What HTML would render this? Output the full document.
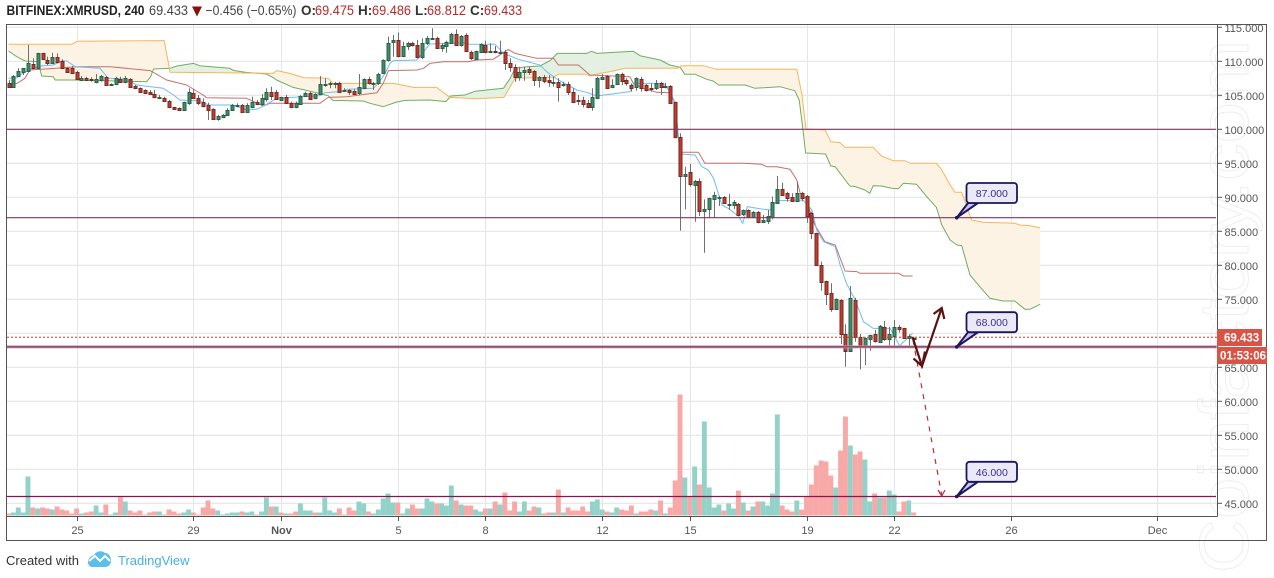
<!DOCTYPE html>
<html lang="en">
<head>
<meta charset="utf-8">
<title>BITFINEX:XMRUSD, 240</title>
<style>
html,body{margin:0;padding:0;background:#fff;width:1274px;height:578px;overflow:hidden}
svg{display:block}
text{font-family:"Liberation Sans",sans-serif}
</style>
</head>
<body>
<svg id="chart" xmlns="http://www.w3.org/2000/svg" width="1274" height="578" viewBox="0 0 1274 578">
  <defs>
    <clipPath id="axisClip"><rect x="1218" y="25" width="49" height="516"/></clipPath>
    <clipPath id="plotClip"><rect x="7" y="25" width="1210" height="491"/></clipPath>
  </defs>
  <text transform="translate(1248 573) rotate(-90)" font-size="70" fill="none" stroke="#efefef" stroke-width="1" textLength="533" lengthAdjust="spacingAndGlyphs">Coinfactory.com</text>
  <g id="grid"></g>
  <g id="volumes"></g>
  <g id="ichimoku" clip-path="url(#plotClip)"></g>
  <g id="candles" clip-path="url(#plotClip)"></g>
  <g id="levels"></g>
  <g id="drawings">
    <g fill="none" stroke="#b5303a" stroke-width="1.2">
      <path d="M913 340L941.7 495" stroke-dasharray="5 6"/>
      <path d="M938 490L941.7 496L945 490"/>
    </g>
    <g fill="none" stroke="#5a1410" stroke-width="2.2">
      <path d="M912.5 337L922 366L941.7 308"/>
      <path d="M913.5 358.5L922 366L925 351.5"/>
      <path d="M933.5 314L941.7 308L944.3 319"/>
    </g>
  </g>
  <g id="callouts"></g>
  <g id="frame" fill="none" stroke="#555" stroke-width="1">
    <rect x="6.5" y="24.5" width="1260" height="516"/>
    <path d="M1217.5 24.5V516.5"/>
    <path d="M6.5 516.5H1217.5"/>
  </g>
  <g id="axes"></g>
  <g id="lastPrice">
    <rect x="1217" y="329" width="45" height="17" fill="#d95446"/>
    <text x="1224" y="341.5" font-size="11.5" font-weight="700" fill="#fff">69.433</text>
    <rect x="1217" y="347" width="50" height="17" fill="#d95446"/>
    <text x="1220" y="359.5" font-size="11.5" font-weight="700" fill="#fff">01:53:06</text>
  </g>
  <g id="legend" font-size="13.5">
    <text x="6.5" y="15" font-weight="700" fill="#222" textLength="138" lengthAdjust="spacingAndGlyphs">BITFINEX:XMRUSD, 240</text>
    <text x="149" y="15" fill="#444" textLength="39" lengthAdjust="spacingAndGlyphs">69.433</text>
    <path d="M192 6.5H202L197 16.5Z" fill="#8b0f0f"/>
    <text x="205.5" y="15" fill="#444" textLength="91" lengthAdjust="spacingAndGlyphs">−0.456 (−0.65%)</text>
    <text x="301" y="15" font-weight="700" fill="#333">O:</text>
    <text x="315" y="15" fill="#b52a2a" textLength="39" lengthAdjust="spacingAndGlyphs">69.475</text>
    <text x="358" y="15" font-weight="700" fill="#333">H:</text>
    <text x="372" y="15" fill="#b52a2a" textLength="39" lengthAdjust="spacingAndGlyphs">69.486</text>
    <text x="415" y="15" font-weight="700" fill="#333">L:</text>
    <text x="427" y="15" fill="#b52a2a" textLength="39" lengthAdjust="spacingAndGlyphs">68.812</text>
    <text x="470" y="15" font-weight="700" fill="#333">C:</text>
    <text x="484" y="15" fill="#b52a2a" textLength="38" lengthAdjust="spacingAndGlyphs">69.433</text>
  </g>
  <g id="footer">
    <text x="6" y="565" font-size="13" fill="#333">Created with</text>
    <g>
      <path d="M88 562C88 557 92 556 94 555C96 551 102 550 105 553C109 553 111 557 111 561C111 565 108 567 105 567H92C90 567 88 565 88 562Z" fill="#5cbeea"/>
      <path d="M89 561L95 556L100 561L105 556L110 561" fill="none" stroke="#fff" stroke-width="2"/>
    </g>
    <text x="118" y="565" font-size="13" fill="#45b0e6">TradingView</text>
  </g>
</svg>
<script>
const opens=[106.86,106.37,107.94,108.58,108.73,109.71,109.07,111.27,110.29,109.9,110.69,110.1,109.07,109.12,108.53,107.35,107.6,107.5,107.11,107.35,107.84,106.62,106.72,107.45,107.11,107.5,106.47,106.23,105.88,105.64,105.25,104.75,104.75,104.26,103.38,103.24,102.89,104.02,105.39,104.75,104.12,103.68,103.09,101.67,101.96,102.25,102.99,103.48,103.68,102.65,103.43,104.12,103.87,104.61,105.64,105.59,104.41,104.8,104.02,103.43,103.82,105.05,105.39,104.71,105.29,106.67,106.76,106.86,106.86,105.78,105.83,105.74,105.49,106.23,107.5,106.76,106.86,108.33,110.29,112.99,113.24,110.88,112.4,112.75,112.5,110.78,112.75,113.38,113.48,112.11,112.4,112.84,114.07,112.5,113.97,111.47,110.39,111.52,112.5,111.52,111.67,111.32,111.42,109.8,109.31,107.84,108.48,108.92,108.63,107.4,107.84,107.3,106.86,107.01,106.57,106.72,105.54,104.41,104.41,103.92,103.33,104.75,107.45,107.94,106.27,106.72,108.19,107.3,106.62,106.37,107.45,106.57,106.13,106.13,106.86,106.42,106.52,104.07,98.92,93.28,93.77,91.96,92.45,88.14,88.43,89.9,90.05,90.1,89.02,88.97,89.17,87.7,88.19,87.16,87.89,86.52,86.67,87.16,89.31,91.27,90.69,90.1,89.61,90.69,90.29,87.74,84.8,80.1,77.74,75.98,73.72,75,69.95,67.55,75,69.51,68.14,69.31,69.95,68.87,71.08,69.21,69.75,70.98,70.83,69.36,69.475];
const highs=[107.35,108.09,109.07,109.07,112.5,110.54,111.37,111.37,110.78,111.37,111.27,110.39,109.31,109.41,108.73,107.94,107.84,107.75,108.24,108.09,107.94,106.86,107.84,107.84,107.94,107.6,106.62,106.27,105.98,105.88,105.88,105.15,104.9,104.41,103.43,103.33,104.17,106.13,105.98,105.15,104.66,104.02,103.19,102.21,102.35,103.19,103.82,103.92,103.82,103.92,104.9,104.41,105.29,106.13,106.37,105.88,104.9,105.15,104.17,104.17,105.15,105.64,105.64,105.39,107.94,107.6,107.11,107.11,107.11,106.13,105.98,105.98,108.24,107.6,107.84,107.11,108.43,110.39,113.73,113.97,114.36,112.99,112.99,112.99,113.24,113.48,113.82,114.95,113.73,112.75,113.14,114.31,114.8,113.97,114.22,111.67,111.67,112.75,113.14,112.75,112.35,113.14,111.76,110.54,109.66,109.31,109.31,109.31,108.82,107.94,108.09,108.09,107.84,107.6,107.11,107.11,106.13,105.15,104.9,104.41,106.13,107.84,108.24,108.09,107.45,108.33,108.43,107.6,106.86,107.75,107.84,106.76,106.86,107.35,107.11,106.96,106.62,104.17,99.51,94.61,95,92.65,92.89,89.8,90.05,90.93,90.34,90.29,90.59,89.71,89.26,88.33,88.33,88.09,88.09,87.5,88.24,90.2,93.24,92.25,90.93,90.69,92.4,90.93,90.44,87.99,84.9,80.64,77.84,77.45,75.24,75.1,71.42,77.06,75.34,70,69.51,69.9,70.59,71.32,71.91,71.08,72.06,71.32,70.93,69.95,69.486];
const lows=[106.37,106.27,107.84,108.09,108.73,108.92,109.07,110.29,109.56,109.71,109.8,108.92,108.43,108.24,107.35,107.35,107.25,107.11,106.86,107.11,106.47,106.47,106.57,106.96,106.86,106.27,105.98,105.49,105.29,105.15,104.66,104.51,104.17,103.19,103.04,102.84,102.79,103.68,104.66,103.68,103.33,101.47,101.47,101.37,101.86,102.16,102.79,103.33,102.55,102.55,103.19,103.68,103.53,104.17,104.41,104.41,104.31,103.92,103.19,103.19,103.68,104.9,104.41,104.51,105.15,106.37,106.13,106.13,105.49,105.64,105.15,105.15,105.15,105.98,106.67,105.88,106.62,108.24,110.05,110.78,110.69,110.69,111.76,112.26,110.54,110.39,112.5,113.38,112.01,111.52,111.37,112.75,112.35,112.26,111.52,110.29,110.29,111.42,111.27,111.42,111.27,111.18,108.82,108.58,107.11,107.25,107.25,108.09,106.47,106.23,106.86,106.37,106.37,104.17,106.37,105.15,104.02,103.68,103.33,103.19,102.84,104.66,107.35,106.13,106.13,106.62,106.62,106.52,105.64,105.78,105.64,105.64,105.64,105.88,105.15,106.13,103.92,98.77,85.2,88.33,91.67,86.52,87.35,81.96,87.01,87.16,88.82,89.12,88.24,88.38,87.45,87.35,87.01,87.01,86.27,86.37,86.18,86.86,89.22,90.34,89.46,89.51,89.51,89.51,86.37,83.97,80,76.37,74.26,73.28,73.63,68.53,65.2,67.45,68.87,64.8,65.44,67.55,68.73,68.73,69.02,68.23,68.23,70.2,69.36,68.23,68.812];
const closes=[106.37,107.94,108.68,109.07,109.8,109.07,111.27,110.39,109.8,110.69,110.05,109.17,108.58,108.43,107.5,107.7,107.35,107.35,107.55,107.94,106.62,106.81,107.7,107.11,107.7,106.37,106.13,105.64,105.49,105.29,104.8,104.8,104.26,103.33,103.14,102.94,104.07,105.54,104.75,104.02,103.53,102.94,101.67,102.06,102.25,102.94,103.63,103.68,102.7,103.63,104.07,103.82,104.66,105.64,105,104.61,104.8,104.02,103.43,103.92,105.05,105.39,104.51,105.25,106.76,106.76,106.86,106.96,105.64,105.88,105.54,105.34,106.27,107.45,106.86,106.86,108.24,110.29,112.75,113.24,110.88,112.35,112.75,112.5,110.78,112.75,113.48,113.48,112.11,112.45,112.89,114.12,112.5,113.82,111.67,110.64,111.57,112.6,111.52,111.67,111.42,111.42,109.8,109.31,107.84,108.48,108.82,108.53,107.35,107.84,107.25,107.11,107.06,106.37,106.76,105.64,104.17,104.26,103.87,103.43,104.8,107.6,107.84,106.23,106.62,108.19,107.25,106.86,106.23,107.6,106.13,105.88,105.98,106.86,106.37,106.52,104.02,98.92,93.28,93.53,92.06,92.45,88.14,88.33,89.95,90.39,90.15,89.31,89.12,89.36,87.55,88.19,87.21,87.89,86.42,86.72,87.3,89.36,91.27,90.49,90.05,89.61,90.69,90,87.4,84.9,80.15,77.7,75.93,73.72,75.1,69.95,67.55,75.24,69.56,68.14,69.36,69.8,68.92,71.18,69.21,69.95,71.03,70.78,69.46,69.7,69.433];

const volumes=[6,9,24,9,117,24,21,24,21,18,27,18,15,6,21,6,9,12,30,9,33,3,9,55,42,15,9,15,3,9,12,12,3,18,12,6,9,18,9,3,24,45,21,15,3,6,9,9,12,9,12,3,12,54,27,27,9,6,6,12,36,15,15,9,9,54,15,9,21,3,24,15,42,36,12,6,18,51,66,39,39,6,21,33,21,21,51,42,36,36,30,90,45,33,30,30,18,12,21,21,42,33,69,15,42,12,42,15,27,24,6,9,9,78,9,24,15,15,27,12,42,48,18,12,9,24,18,15,30,6,12,12,18,15,45,6,24,105,363,114,57,147,93,282,84,24,33,15,36,21,75,39,15,27,42,42,30,66,303,30,18,12,45,18,57,93,150,165,162,120,84,195,297,210,183,192,168,42,66,54,54,75,63,12,42,45,9];
const volumeDirections="RGGGGRGRRG"+"RRRRRGRRGG"+"RGGRGRRRRR"+"RGRRRRGGRR"+"RRRGGGGGRG"+"GRGGRGRGRR"+"GGGRGGGGRG"+"RRGGRGGGGG"+"RGGRRGGGRG"+"GGRGRRGGRG"+"RGRRRGGRRG"+"RRGRGRRRRR"+"GGGRGGRRRG"+"RRRGRGRRRG"+"RGRGGGGRGG"+"RGRGRGGGGR"+"RRGRRRRRRR"+"GRRGRRGGRG"+"RGGRRGR";

const senkouABars=[0,1.7,3.4,6.1,6.8,9.2,9.6,13.7,28.4,29.2,29.8,33.2,34.6,38,39.3,45.5,46.2,48.6,53,54.3,55.1,58.5,62.3,65.7,66.7,72.9,74.3,77,79.8,81.5,86.6,89.9,90.9,93.8,95.9,101.7,103.1,104.1,106.5,109.2,111.3,112.8,118.8,119.8,120.9,128.4,129.8,133.9,135.9,138,139,141.1,143.5,144.8,145.9,151.4,153.4,158.5,161.6,162.5,163.2,163.8,167.9,169,169.9,172.9,174,176,177,177.7,179.4,181.5,182.9,183.9,186.6,189,190.7,191.8,193.5,194.9,195.9,197.6,199.6,201.7,204.4,206.8,208.9,209.9,212];
const senkouAValues=[111.62,110.78,110.15,110.05,107.94,107.84,107.35,107.35,107.11,107.84,108.97,109.07,109.41,109.8,109.46,109.07,108.77,108.48,108.24,107.75,107.35,106.27,105.64,105.05,104.36,104.26,103.92,103.43,104.12,104.36,104.41,104.17,105,105.15,105.69,106.13,107.6,109.07,109.31,109.41,110.2,111.27,111.27,111.57,111.27,111.57,110.93,110.29,109.56,109.22,108.19,108.19,107.45,107.2,106.62,106.62,106.13,106.37,105.78,104.41,100.49,96.62,96.47,94.71,94.61,91.76,91.67,91.18,90.69,91.81,91.76,91.42,91.37,92.16,92.01,89.95,88.63,86.03,83.83,83.09,83,78.68,76.96,75.25,74.86,74.86,73.63,73.63,74.37];
const senkouBBars=[0,13,14.1,32,33.2,42.8,54.4,55.1,57.8,60.6,65.7,66.7,79.1,83.2,88,90.7,96.2,101.8,104.1,112,113,118.8,119.5,121.5,123.6,126.7,137.6,138.3,142.8,145.5,162,163,163.9,167.8,169,170.9,171.9,177.7,179.4,181.8,184.2,185.3,190.7,191.8,193.5,194.5,195.9,197.9,200.3,206.8,207.9,209.9,212];
const senkouBValues=[112.6,112.6,113.04,113.14,108.48,108.43,108.33,108.73,108.33,107.7,107.6,106.86,106.86,106.27,106.27,104.8,104.61,104.8,107.6,107.75,108.19,108.19,107.94,108.33,108.58,109.07,109.07,109.46,109.46,108.92,108.92,105.39,100.15,100,98.28,98.14,97.45,97.45,96.18,95.49,95.49,95.1,95.1,94.12,91.91,90.84,90.84,86.77,86.42,86.28,86.03,85.93,85.64];
const tenkanBars=[0,1.7,2.4,4.1,6.8,9.2,10.9,12,13.7,18.8,20.5,24.3,26.3,31.8,33.9,35.2,39.3,41.1,46.2,48.9,51,53,55.1,64,65,68.1,69.5,75,76,77.4,78.4,79.1,83.9,85.3,86.6,93.8,94.8,100,101.7,104.8,109.2,110.6,113,116.8,118.8,120.9,127.7,128.4,134.6,135.9,137,138,141.1,142.5,143.8,144.9,146.6,147.9,150,150.9,151.8,154.4,156.5,157.9,163.3,165.1,166.1,167.5,169.9,170.9,172.2,174,175.7,177.7,181.2,183.1,184.2,185.8];
const tenkanValues=[107.6,107.65,108.09,108.82,109.41,109.56,110.15,110.15,109.31,109.07,107.6,107.45,106.62,106.13,105.15,104.41,104.31,103.68,103.68,102.94,103.04,103.77,104.66,105.05,105.49,105.64,105.98,106.13,106.86,108.33,109.8,110.2,110.29,111.52,112.65,112.84,112.6,112.6,111.27,110.39,109.56,108.58,107.35,105.88,105.54,105,105.64,106.86,106.86,105.64,104.02,96.47,96.32,94.61,94.12,92.89,88.97,88.48,87.35,86.27,88.73,88.43,88.24,89.61,89.71,88.24,85.29,83.58,82.84,80.15,77.45,75,71.81,70.83,70.83,68.28,69.02,70.1];
const kijunBars=[0,1.7,3.4,4.4,9.9,14,20.9,29.1,32.5,36.6,40,40.7,48.9,52.4,53.7,64,65.7,69.5,75.7,77,78.1,83.9,85.3,86.6,89.4,94.5,96.2,99.6,102.7,104.1,108.5,112,113,117.1,119.5,127.7,128.4,130.5,133.2,135.9,137,138,141.8,143.1,151,154.8,155.8,157.9,160.6,162,162.7,163.8,165.7,167.8,169.9,171.9,174.3,175,182.9,183.9,185.8];
const kijunValues=[106.47,106.86,107.6,108.82,109.07,109.31,109.31,108.73,107.35,106.62,105.15,104.75,104.66,103.53,103.92,103.92,104.8,104.9,105.49,106.86,108.73,108.82,109.07,109.8,110.05,110.05,110.29,110.39,111.86,111.27,110.54,110.54,109.56,109.56,108.09,107.84,106.86,106.13,105.54,105.49,103.92,96.72,96.72,95.1,95.1,94.95,94.61,94.61,94.22,92.65,90.69,89.95,86.03,83.58,83.09,79.26,79.17,78.92,78.92,78.53,78.53];

const priceTicks=[115,110,105,100,95,90,85,80,75,70,65,60,55,50,45];
const timeTickBars=[14,38,56,80,98,122,140,164,182,206,236];
const timeTickLabels=["25","29","Nov","5","8","12","15","19","22","26","Dec"];
const levelPrices=[100,87,68,46];
const calloutPrices=[87,68,46];
const lastPrice=69.433;

const SVG_NS="http://www.w3.org/2000/svg";
function xBar(i){return 8.5+4.866*i;}
function yPrice(p){return 129.3+(100-p)*6.8;}
function yMark(p){return yPrice(p)+0.7;}
function yVolume(v){return 515.5-v/3;}
function mk(parent,tag,attrs){
  const el=document.createElementNS(SVG_NS,tag);
  for(const k in attrs){el.setAttribute(k,attrs[k]);}
  parent.appendChild(el);
  return el;
}
function lineValue(bars,vals,b){
  if(b<=bars[0])return vals[0];
  for(let i=1;i<bars.length;i++){
    if(b<=bars[i]){
      const t=(b-bars[i-1])/(bars[i]-bars[i-1]);
      return vals[i-1]+t*(vals[i]-vals[i-1]);
    }
  }
  return vals[vals.length-1];
}

/* grid */
const gridG=document.getElementById('grid');
priceTicks.forEach(function(p){
  const y=yPrice(p).toFixed(1);
  const l=mk(gridG,'line',{x1:7,x2:1217,y1:y,y2:y,stroke:'#e2e2e2','stroke-width':1});
  
  
});
timeTickBars.forEach(function(b){
  const x=Math.round(xBar(b))+0.5;
  const l=mk(gridG,'line',{x1:x,x2:x,y1:25,y2:516,stroke:'#e6e6e6','stroke-width':1});
  
  
});

/* volume */
const volG=document.getElementById('volumes');
volumes.forEach(function(v,i){
  const y=yVolume(v);
  const r=mk(volG,'rect',{x:(xBar(i)-2.45).toFixed(2),y:y.toFixed(2),width:4.9,height:(515.5-y).toFixed(2),fill:volumeDirections[i]==='G'?'#92d2c9':'#f8a8a6'});
  
  
});

/* cloud */
const ichG=document.getElementById('ichimoku');
(function(){
  const step=0.2, end=212;
  let run=[], sign=null;
  function flush(){
    if(run.length<2)return;
    const top=run.map(function(r){return xBar(r[0]).toFixed(1)+','+yMark(r[1]).toFixed(1);});
    const bot=run.slice().reverse().map(function(r){return xBar(r[0]).toFixed(1)+','+yMark(r[2]).toFixed(1);});
    const poly=mk(ichG,'polygon',{points:top.concat(bot).join(' '),fill:sign>0?'#e4f1e2':'#fdf3e4'});
    
    
  }
  for(let b=0;b<=end+1e-6;b+=step){
    const a=lineValue(senkouABars,senkouAValues,b);
    const c=lineValue(senkouBBars,senkouBValues,b);
    const s=a>=c?1:-1;
    if(sign!==null&&s!==sign){
      run.push([b,a,c]);
      flush();
      run=[[b,a,c]];
    }else{
      run.push([b,a,c]);
    }
    sign=s;
  }
  flush();
})();
function drawLine(bars,vals,color,name){
  const pts=bars.map(function(b,i){return xBar(b).toFixed(1)+','+yMark(vals[i]).toFixed(1);}).join(' ');
  const pl=mk(ichG,'polyline',{points:pts,fill:'none',stroke:color,'stroke-width':1,'stroke-linejoin':'round'});
  
  
}
drawLine(senkouABars,senkouAValues,'#6caf63','senkou-span-a-line');
drawLine(senkouBBars,senkouBValues,'#f6b55c','senkou-span-b-line');
drawLine(kijunBars,kijunValues,'#c4716d','kijun-line');
drawLine(tenkanBars,tenkanValues,'#6dbdf6','tenkan-line');

/* candles */
const candleG=document.getElementById('candles');
opens.forEach(function(o,i){
  const c=closes[i], up=c>=o;
  const x=Math.round(xBar(i));
  const wick=mk(candleG,'line',{x1:x+0.5,x2:x+0.5,y1:yMark(highs[i]).toFixed(1),y2:yMark(lows[i]).toFixed(1),stroke:'#707070','stroke-width':1});
  
  
  const top=Math.round(yMark(Math.max(o,c))), bot=Math.round(yMark(Math.min(o,c)));
  const body=mk(candleG,'rect',{x:x-1,y:top+0.5,width:3,height:Math.max(1,bot-top),fill:up?'#3d8d66':'#c8392c',stroke:up?'#2a6048':'#6f2c24','stroke-width':1});
  
  
});

/* levels */
const levG=document.getElementById('levels');
levelPrices.forEach(function(p){
  const y=yPrice(p).toFixed(1);
  if(p===68){
    const halo=mk(levG,'line',{x1:7,x2:1217,y1:y,y2:y,stroke:'#c79bb0','stroke-width':3});
    
    
  }
  const l=mk(levG,'line',{x1:7,x2:1216,y1:y,y2:y,stroke:p===46?'#8a1450':'#80385c','stroke-width':1.2});
  
  
});
const pl=mk(levG,'line',{x1:7,x2:1217,y1:yPrice(lastPrice).toFixed(1),y2:yPrice(lastPrice).toFixed(1),stroke:'#c8392c','stroke-width':1,'stroke-dasharray':'2 2'});



/* callouts */
const callG=document.getElementById('callouts');
calloutPrices.forEach(function(p){
  const py=yPrice(p), px=956.7, top=py-34.7;
  const tail=mk(callG,'polygon',{points:(px)+','+(py)+' 968,'+(top+20)+' 978,'+(top+20),fill:'#c9c4ea',stroke:'#1c1660','stroke-width':2});
  
  
  const box=mk(callG,'rect',{x:966.5,y:top.toFixed(1),width:50.5,height:20,rx:3,fill:'#ece9f7',stroke:'#1c1660','stroke-width':1.8});
  
  
  const dot=mk(callG,'circle',{cx:px,cy:py,r:1.8,fill:'#1c1660'});
  
  
  const t=mk(callG,'text',{x:991.8,y:(top+14).toFixed(1),'font-size':10.5,'text-anchor':'middle',fill:'#3a2f8f'});
  t.textContent=p.toFixed(3);
  
  
});

/* axes */
const axG=document.getElementById('axes');
const priceAxisG=mk(axG,'g',{'clip-path':'url(#axisClip)'});


priceTicks.forEach(function(p){
  const y=yPrice(p);
  const tick=mk(priceAxisG,'line',{x1:1218,x2:1222,y1:y.toFixed(1),y2:y.toFixed(1),stroke:'#555','stroke-width':1});
  
  
  const t=mk(priceAxisG,'text',{x:1224.5,y:(y+4.5).toFixed(1),'font-size':11,fill:'#555'});
  t.textContent=p.toFixed(3);
  
  
});
const timeAxisG=mk(axG,'g',{});


timeTickBars.forEach(function(b,i){
  const x=Math.round(xBar(b))+0.5;
  const tick=mk(timeAxisG,'line',{x1:x,x2:x,y1:517,y2:521,stroke:'#555','stroke-width':1});
  
  
  const attrs={x:x,y:534,'font-size':11,fill:'#555','text-anchor':'middle'};
  if(timeTickLabels[i]==='Nov'){attrs['font-weight']=700;}
  const t=mk(timeAxisG,'text',attrs);
  t.textContent=timeTickLabels[i];
  
  
});
</script>
</body>
</html>
